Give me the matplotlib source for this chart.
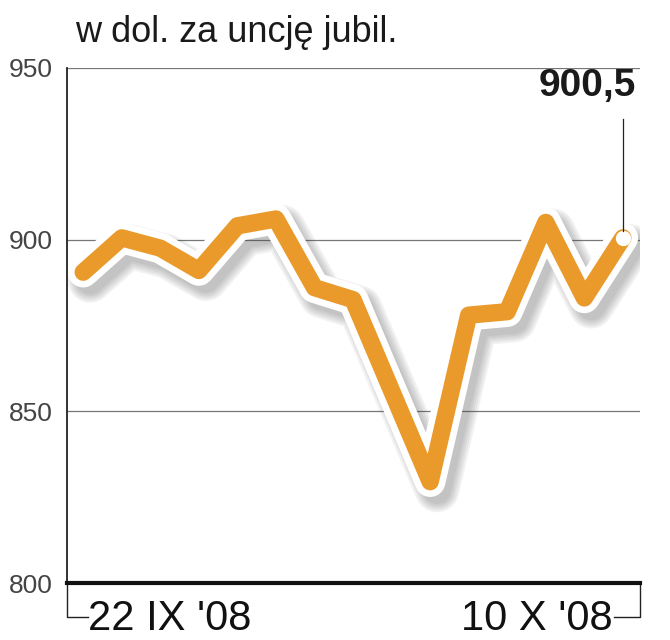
import matplotlib
matplotlib.use('Agg')
import matplotlib.pyplot as plt
import matplotlib.patheffects as pe
from matplotlib import font_manager

# gold price, USD per troy ounce, trading days 22 IX - 10 X 2008
days = ["22 IX", "23 IX", "24 IX", "25 IX", "26 IX", "29 IX", "30 IX",
        "1 X", "2 X", "3 X", "6 X", "7 X", "8 X", "9 X", "10 X"]
price = [890.5, 900.5, 897.5, 891.0, 904.0, 906.0, 886.0, 882.5,
         856.0, 829.5, 878.0, 879.0, 905.0, 883.0, 900.5]
yticks = [800, 850, 900, 950]
title = "w dol. za uncję jubil."
first_label = "22 IX '08"
last_label = "10 X '08"
last_value = "900,5"

names = {f.name for f in font_manager.fontManager.ttflist}
font = 'Liberation Sans' if 'Liberation Sans' in names else 'DejaVu Sans'
narrow = 'Liberation Sans Narrow' if 'Liberation Sans Narrow' in names else font
plt.rcParams['font.family'] = [font, 'DejaVu Sans']

orange = '#ea9a2b'
x = list(range(len(price)))

fig = plt.figure(figsize=(6.7, 6.4), dpi=100)
ax = fig.add_axes([0.1, 0.089, 0.855, 0.805])

ax.set_xlim(-0.42, 14.44)
ax.set_ylim(800, 950)

for v in yticks[1:]:
    ax.axhline(v, color='#777777', lw=0.9, zorder=1)

# soft shadow faked with a few wide transparent strokes
shadow = [pe.SimpleLineShadow(offset=(5, -6), shadow_color='#444444', alpha=0.07, linewidth=w)
          for w in (32, 29, 26, 23, 20)]
ax.plot(x, price, color=orange, lw=12.5, solid_capstyle='round', solid_joinstyle='round',
        zorder=3,
        path_effects=shadow + [pe.Stroke(linewidth=22, foreground='white'), pe.Normal()])

# end point marker and leader line up to the value label
ax.plot([x[-1], x[-1]], [price[-1] + 2, 935], color='#222222', lw=0.9, zorder=5)
ax.plot(x[-1], price[-1], 'o', ms=10, mfc='white', mec='white', zorder=4)
ax.text(x[-1] + 0.33, 939.5, last_value, ha='right', va='bottom', fontsize=28,
        fontweight='bold', color='#1a1a1a', zorder=5)

ax.spines['right'].set_visible(False)
ax.spines['top'].set_visible(False)
ax.spines['left'].set_linewidth(1.3)
ax.spines['bottom'].set_linewidth(3)
ax.spines['left'].set_color('#222222')
ax.spines['bottom'].set_color('#111111')

ax.set_xticks([])
ax.set_yticks(yticks)
ax.set_yticklabels([str(v) for v in yticks], fontsize=19, color='#444444')
ax.tick_params(axis='y', length=0, pad=10)

# bracket under the axis with the date range
ax.plot([0, 0, 0.037], [0, -0.066, -0.066], color='#222222', lw=1, transform=ax.transAxes, clip_on=False)
ax.plot([1, 1, 0.955], [0, -0.066, -0.066], color='#222222', lw=1, transform=ax.transAxes, clip_on=False)
ax.text(0.037, -0.07, first_label, transform=ax.transAxes, ha='left', va='center',
        fontsize=30, color='#111111', family=[narrow, 'DejaVu Sans'])
ax.text(0.953, -0.07, last_label, transform=ax.transAxes, ha='right', va='center',
        fontsize=30, color='#111111', family=[narrow, 'DejaVu Sans'])

fig.text(0.112, 0.95, title, ha='left', va='center', fontsize=26, color='#1a1a1a',
         family=[narrow, 'DejaVu Sans'])

fig.savefig('out.png', dpi=100)
